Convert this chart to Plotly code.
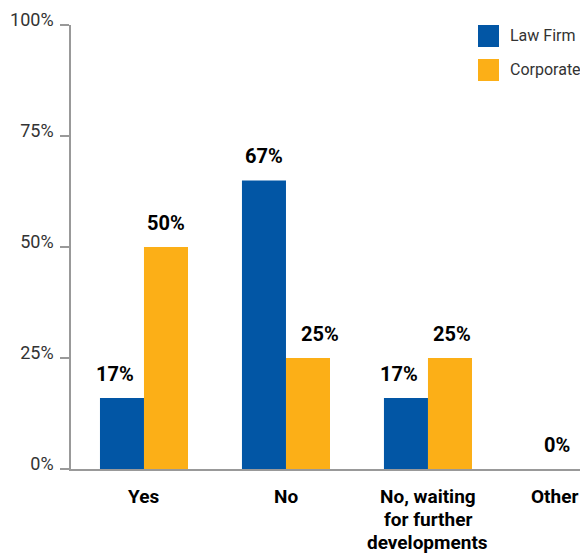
import plotly.graph_objects as go

categories = ['Yes', 'No', 'No, waiting<br>for further<br>developments', 'Other']
law_firm = [16, 65, 16, 0]
corporate = [50, 25, 25, 0]
law_firm_labels = ['17%', '67%', '17%', '0%']
corporate_labels = ['50%', '25%', '25%', '']
y_ticks = [0, 25, 50, 75, 100]

blue = '#0256A5'
orange = '#FCAF17'
axis_gray = '#999999'
text_gray = '#333333'
font_family = 'Roboto, Liberation Sans, sans-serif'

# page body has an 8px margin, so the figure is drawn 8px smaller
W, H = 580, 546
left, top_m, bottom = 63, 17, 85
plot_w = W - left
plot_h = H - top_m - bottom

fig = go.Figure()
fig.add_trace(go.Bar(x=categories, y=law_firm, name='Law Firm',
                     marker=dict(color=blue, line=dict(width=0))))
fig.add_trace(go.Bar(x=categories, y=corporate, name='Corporate',
                     marker=dict(color=orange, line=dict(width=0))))

# value labels (offsets nudged to match the original placement)
law_shift = [-29, -22, -29, 0]
corp_shift = [22, 34, 24, 0]
for i, cat in enumerate(categories):
    both_zero = law_firm[i] == 0 and corporate[i] == 0
    for vals, labels, shift in ((law_firm, law_firm_labels, law_shift),
                                (corporate, corporate_labels, corp_shift)):
        if not labels[i]:
            continue
        fig.add_annotation(
            x=cat, y=vals[i], text='<b>%s</b>' % labels[i],
            showarrow=False, xanchor='center', yanchor='bottom',
            xshift=-13 if both_zero else shift[i], yshift=10,
            font=dict(family=font_family, size=20, color='black')
        )

# category labels, one annotation per line
for i, cat in enumerate(categories):
    for j, line in enumerate(cat.split('<br>')):
        fig.add_annotation(
            x=cat, y=0, text='<b>%s</b>' % line, showarrow=False,
            xanchor='center', yanchor='top',
            xshift=-15 if cat == 'Other' else 0, yshift=-14 - 23 * j,
            font=dict(family=font_family, size=19, color='black')
        )

# legend swatches (pixel positions inside the plot area)
for k, (label, color) in enumerate((('Law Firm', blue), ('Corporate', orange))):
    y_top = 34 * k
    fig.add_shape(type='rect', xref='paper', yref='paper',
                  x0=407 / plot_w, x1=428 / plot_w,
                  y0=(plot_h - y_top - 22) / plot_h, y1=(plot_h - y_top) / plot_h,
                  fillcolor=color, line=dict(width=0))
    fig.add_annotation(xref='paper', yref='paper', x=437 / plot_w,
                       y=(plot_h - y_top - 11) / plot_h, text=label,
                       showarrow=False, xanchor='left', yanchor='middle',
                       font=dict(family=font_family, size=16, color=text_gray))

fig.update_layout(
    width=W, height=H,
    margin=dict(l=left, r=0, t=top_m, b=bottom, autoexpand=False),
    plot_bgcolor='white', paper_bgcolor='white',
    showlegend=False,
    barmode='group', bargap=0.38, bargroupgap=0,
    font=dict(family=font_family, size=18, color=text_gray),
    xaxis=dict(
        range=[-0.514, 3.127],
        showgrid=False, zeroline=False, showline=True,
        linecolor=axis_gray, linewidth=1.5,
        showticklabels=False, ticks=''
    ),
    yaxis=dict(
        range=[0, 100], tickvals=y_ticks,
        ticktext=['%d%%' % v for v in y_ticks],
        showgrid=False, zeroline=False, showline=True,
        linecolor=axis_gray, linewidth=1.5,
        ticks='outside', ticklen=9, tickcolor=axis_gray, tickwidth=1.5,
        ticklabelstandoff=3, ticklabelshift=-5,
        tickfont=dict(family=font_family, size=18, color=text_gray)
    ),
)

fig.write_html('out.html')
